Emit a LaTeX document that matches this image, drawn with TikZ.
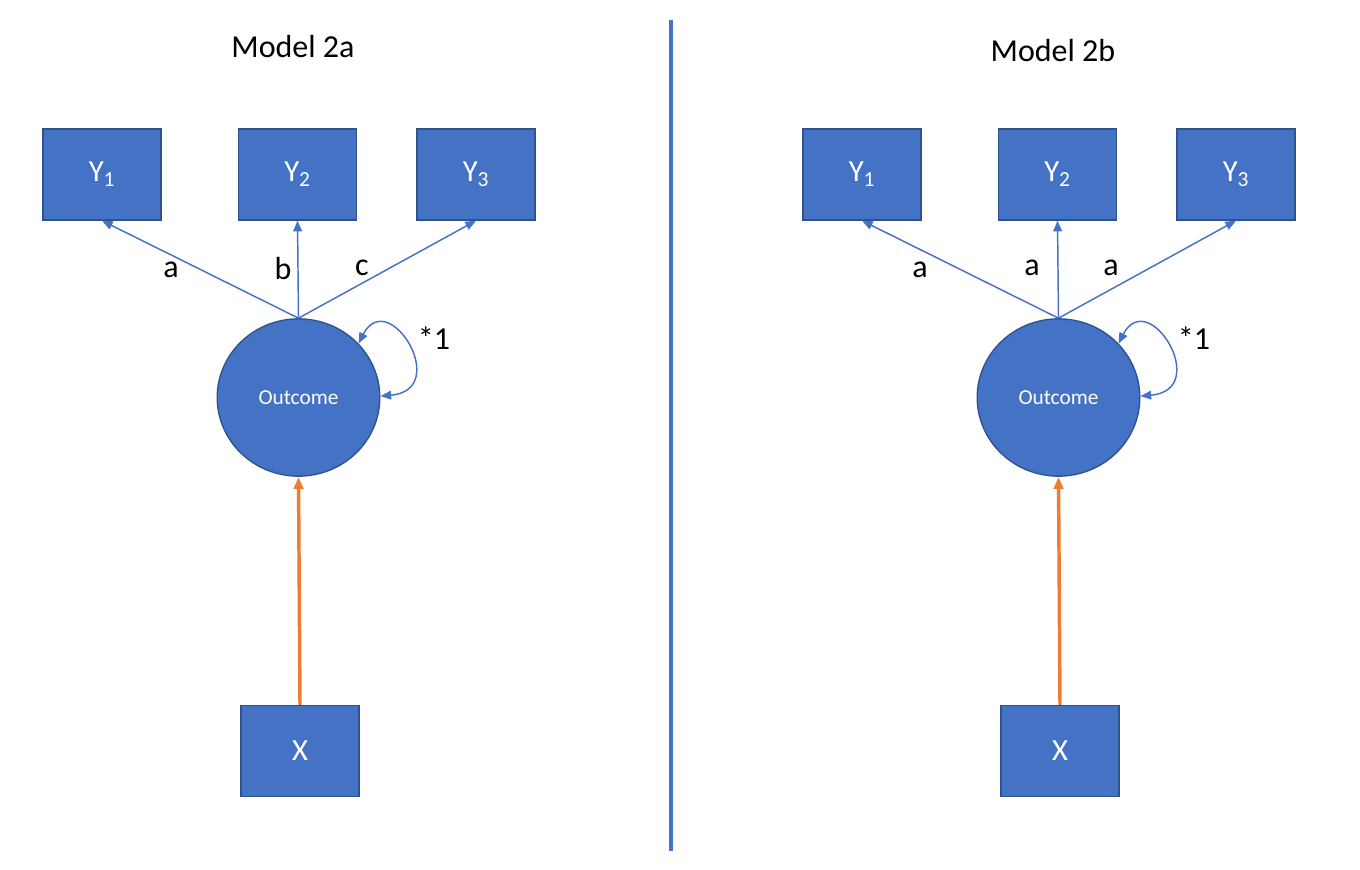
\documentclass[tikz,border=0pt]{standalone}
\usepackage{fontspec}
\setmainfont{Carlito}
\usetikzlibrary{arrows.meta,shapes.geometric}

\definecolor{boxblue}{HTML}{4472C4}
\definecolor{boxedge}{HTML}{2F528F}
\definecolor{pathorange}{HTML}{ED7D31}

\tikzset{
  obs/.style={rectangle,draw=boxedge,fill=boxblue,line width=1pt,
    minimum width=88.5pt,minimum height=68.25pt,text=white,
    font=\fontsize{23}{27}\selectfont},
  latent/.style={ellipse,draw=boxedge,fill=boxblue,line width=1pt,
    minimum width=122pt,minimum height=118pt,text=white,
    font=\fontsize{16}{19}\selectfont},
  load/.style={-{Triangle[length=8pt,width=6.5pt]},draw=boxblue,line width=1.1pt},
  selfloop/.style={{Triangle[length=8pt,width=6.5pt]}-{Triangle[length=8pt,width=6.5pt]},
    draw=boxblue,line width=1.1pt},
  regpath/.style={-{Triangle[length=9pt,width=7pt]},draw=pathorange,line width=2.6pt},
  lbl/.style={font=\fontsize{24}{28}\selectfont},
  title/.style={font=\fontsize{24}{28}\selectfont}
}

\begin{document}
\begin{tikzpicture}[x=0.75pt,y=-0.75pt]

\useasboundingbox (0,0) rectangle (1360,870);

% divider between the two models
\coordinate (top) at (671,20);
\coordinate (bot) at (671,851);
\draw[boxblue,line width=3pt] (top)--(bot);

\foreach \m/\dx/\lx/\ty/\la/\lb/\lc in {a/0/0/47/a/b/c, b/760/749/51/a/a/a}{

  \node[title] (T\m) at (293+\dx,\ty) {Model 2\m};

  \node[obs] (Y1\m) at (102+\dx,174.5) {Y\textsubscript{1}};
  \node[obs] (Y2\m) at (297.5+\dx,174.5) {Y\textsubscript{2}};
  \node[obs] (Y3\m) at (476+\dx,174.5) {Y\textsubscript{3}};

  \node[latent] (O\m) at (298.5+\dx,397.5) {Outcome};

  \node[obs] (X\m) at (300+\dx,751) {X};

  \draw[load] (O\m.north)--(Y1\m.south);
  \draw[load] (O\m.north)--(Y2\m.south);
  \draw[load] (O\m.north)--(Y3\m.south);

  \node[lbl] (la\m) at (171+\lx,270) {\la};
  \node[lbl] (lb\m) at (283+\lx,268) {\lb};
  \node[lbl] (lc\m) at (362+\lx,268) {\lc};

  % residual variance
  \draw[selfloop] (O\m.42) .. controls +(30,-58) and +(72,-6) .. (O\m.1);
  \node[lbl] (v\m) at (435+\dx-1,338) {*1};

  \draw[regpath] (X\m.north)--(O\m.south);
}

\end{tikzpicture}
\end{document}
